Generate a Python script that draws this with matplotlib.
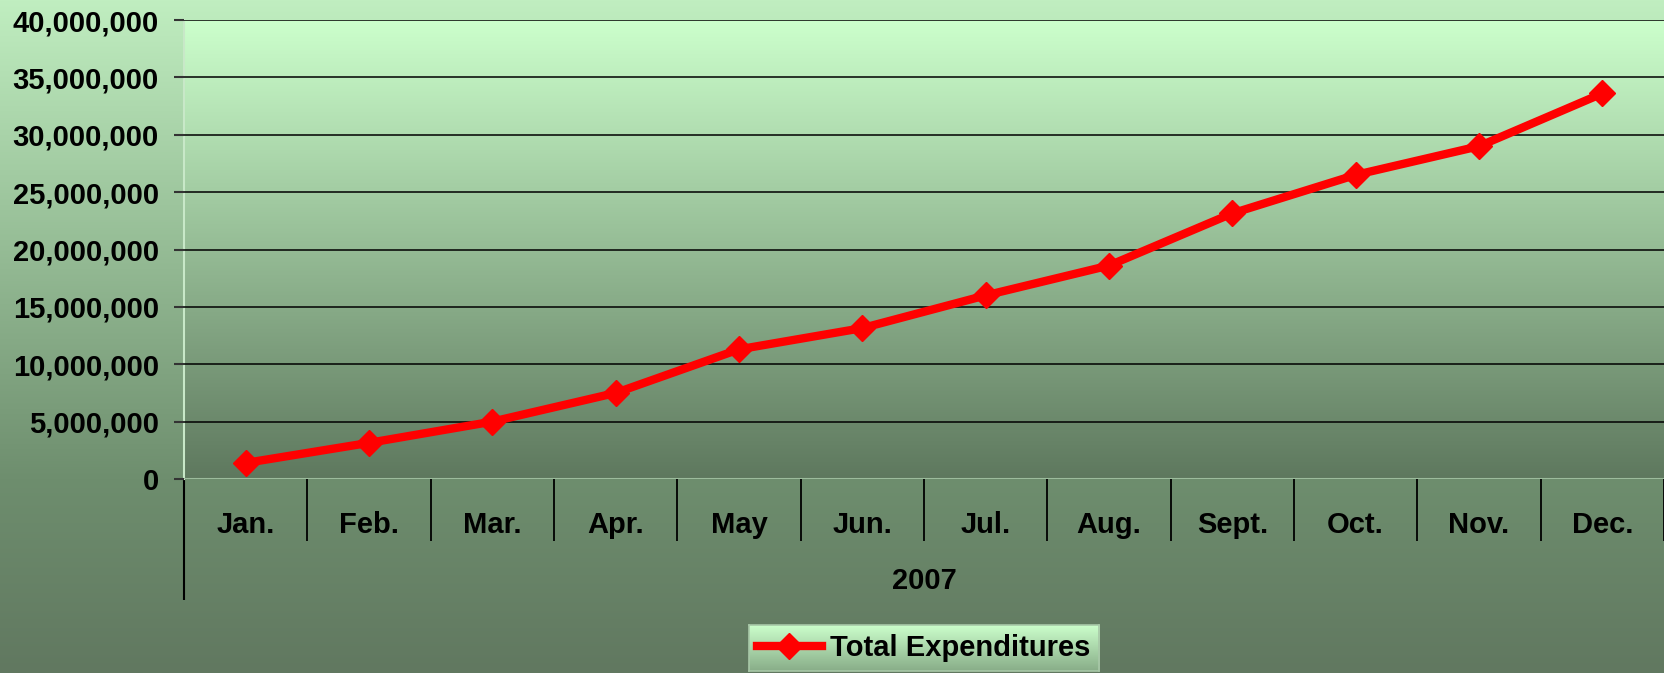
import numpy as np
import matplotlib
matplotlib.use("Agg")
from matplotlib import pyplot as plt
from matplotlib.colors import to_rgb
from matplotlib.ticker import FuncFormatter
import matplotlib.transforms as mtransforms

months = ["Jan.", "Feb.", "Mar.", "Apr.", "May", "Jun.", "Jul.", "Aug.", "Sept.", "Oct.", "Nov.", "Dec."]
expenditures = [1.4e6, 3.15e6, 5.0e6, 7.5e6, 11.3e6, 13.15e6, 16.0e6, 18.6e6, 23.15e6, 26.5e6, 29.0e6, 33.6e6]
year_label = "2007"
series_name = "Total Expenditures"

plt.rcParams["font.family"] = ["Liberation Sans", "DejaVu Sans"]
plt.rcParams["font.weight"] = "bold"

W, H = 1664, 673
fig = plt.figure(figsize=(W / 100, H / 100), dpi=100)


def gradient(stops, n=400):
    # stops: list of (pos 0..1 from top, colour)
    pos = np.array([s[0] for s in stops])
    cols = np.array([to_rgb(s[1]) for s in stops])
    t = np.linspace(0, 1, n)
    img = np.stack([np.interp(t, pos, cols[:, k]) for k in range(3)], axis=1)
    return img[:, None, :]


# figure background
bg = fig.add_axes([0, 0, 1, 1], zorder=-10)
bg.imshow(gradient([(0, "#c0eec0"), (479 / H, "#6e8e6e"), (1, "#617860")]),
          aspect="auto", extent=[0, 1, 0, 1])
bg.axis("off")

# plot area
L, T, B = 184, 20, 479
ax = fig.add_axes([L / W, 1 - B / H, (W - L) / W, (B - T) / H], zorder=0)
ax.imshow(gradient([(0, "#ccffcc"), (1, "#5e785e")]), aspect="auto",
          extent=[0, 1, 0, 1], transform=ax.transAxes, zorder=0)

x = np.arange(len(months))
ax.plot(x, expenditures, color="#ff0000", lw=6, marker="D", ms=13,
        zorder=5, clip_on=False, label=series_name)

ax.set_xlim(-0.5, len(months) - 0.5)
ax.set_ylim(0, 40e6)
ax.set_yticks(np.arange(0, 40e6 + 1, 5e6))
ax.yaxis.set_major_formatter(FuncFormatter(lambda v, p: f"{int(v):,}"))
ax.grid(axis="y", color="black", lw=1.1)
ax.axhline(0, color="#9cbc9c", lw=1.5, zorder=3)
ax.set_axisbelow(False)
for s in ["top", "right", "bottom"]:
    ax.spines[s].set_visible(False)
ax.spines["left"].set_color("#c8e8c8")
ax.spines["left"].set_linewidth(1.5)

ax.tick_params(axis="y", length=7, width=1.5, color="#333333", labelsize=21, pad=11)
ax.set_xticks(x)
ax.set_xticklabels(months)
ax.tick_params(axis="x", length=0, labelsize=21, pad=23)

# category separators and extended left axis line
trans = mtransforms.blended_transform_factory(ax.transData, ax.transAxes)
ax.vlines(np.arange(len(months)) + 0.5, -62 / (B - T), 0, color="black", lw=1.3,
          transform=trans, clip_on=False)
ax.vlines([-0.5], -121 / (B - T), 0, color="black", lw=1.5, transform=trans, clip_on=False)

fig.text((L + W) / 2 / W, 1 - 581 / H, year_label, ha="center", va="center",
         fontsize=21, fontweight="bold")

leg = fig.legend(loc="center", bbox_to_anchor=((L + W) / 2 / W, 1 - 648 / H),
                 fontsize=21, frameon=True, fancybox=False, handlelength=2.2,
                 handletextpad=0.3, borderpad=0.3, borderaxespad=0)
leg.get_frame().set_alpha(0)
for t in leg.get_texts():
    t.set_fontweight("bold")

fig.canvas.draw()
bb = leg.get_window_extent().transformed(fig.transFigure.inverted())
lax = fig.add_axes([bb.x0, bb.y0, bb.width, bb.height], zorder=1)
lax.imshow(gradient([(0, "#ccffcc"), (1, "#88ad88")]), aspect="auto", extent=[0, 1, 0, 1])
lax.set_xticks([])
lax.set_yticks([])
for s in lax.spines.values():
    s.set_color("#a8c8a8")
    s.set_linewidth(1.2)

fig.savefig("out.png", dpi=100)
